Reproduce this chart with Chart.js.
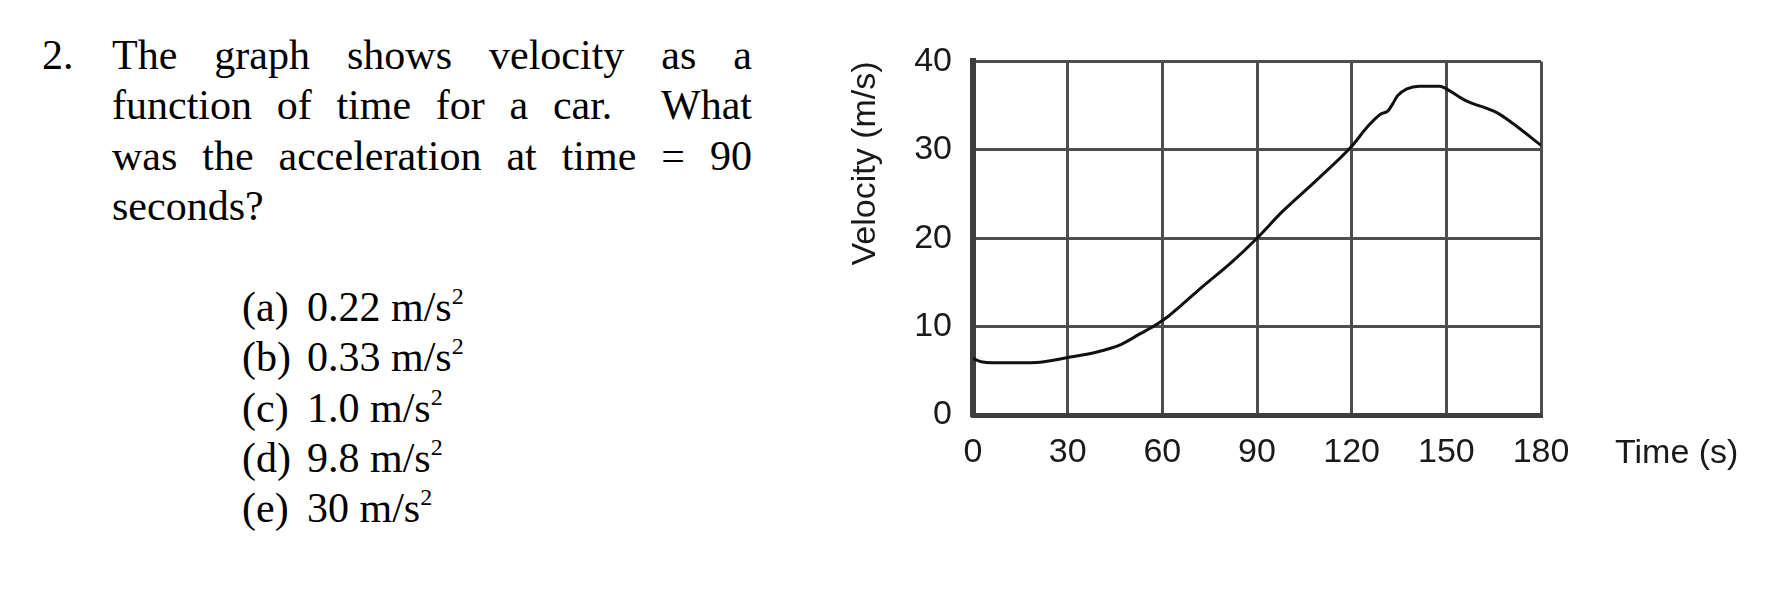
<!DOCTYPE html>
<html>
<head>
<meta charset="utf-8">
<script src="https://cdn.jsdelivr.net/npm/chart.js@4.4.1/dist/chart.umd.min.js"></script>
<style>
  html, body { margin: 0; padding: 0; background: #fff; }
  body { width: 1788px; height: 597px; position: relative; overflow: hidden; }
  .q { position: absolute; font-family: "Liberation Serif", "Times New Roman", serif; font-size: 42px; line-height: 50.3px; color: #000; }
  #num { left: 42px; top: 30px; }
  #question { left: 112px; top: 30px; width: 640px; }
  #question .jl { text-align: justify; text-align-last: justify; }
  #options { left: 242px; top: 282px; }
  #options .lab { display: inline-block; width: 65px; }
  sup { font-size: 24px; line-height: 0; vertical-align: 17px; }
  #chartBox { position: absolute; left: 830px; top: 20px; width: 958px; height: 500px; }
  #xTitle { position: absolute; left: 1615px; top: 431px; font-family: "Liberation Sans", Arial, sans-serif; font-size: 34px; line-height: 40px; color: #1a1a1a; }
</style>
</head>
<body>
<div class="q" id="num">2.</div>
<div class="q" id="question">
  <div class="jl">The graph shows velocity as a</div>
  <div class="jl">function of time for a car.&nbsp; What</div>
  <div class="jl">was the acceleration at time = 90</div>
  <div>seconds?</div>
</div>
<div class="q" id="options">
  <div><span class="lab">(a)</span>0.22 m/s<sup>2</sup></div>
  <div><span class="lab">(b)</span>0.33 m/s<sup>2</sup></div>
  <div><span class="lab">(c)</span>1.0 m/s<sup>2</sup></div>
  <div><span class="lab">(d)</span>9.8 m/s<sup>2</sup></div>
  <div><span class="lab">(e)</span>30 m/s<sup>2</sup></div>
</div>
<div id="chartBox"><canvas id="c"></canvas></div>
<div id="xTitle">Time (s)</div>
<script>
// ---- data ----
const times = [0, 3, 10, 20, 30, 39, 47, 53, 58, 62, 66, 72, 82, 90, 98, 109, 120, 125, 129, 131.5, 133, 134.5, 137.5, 141.5, 148, 150, 156, 166, 171, 180];
const velocities = [6.4, 6.0, 5.9, 5.95, 6.5, 7.1, 8.0, 9.2, 10.2, 11.2, 12.4, 14.3, 17.3, 20.0, 23.0, 26.6, 30.4, 32.6, 34.0, 34.4, 35.2, 36.1, 36.9, 37.2, 37.2, 36.9, 35.6, 34.2, 33.0, 30.5];
const xTickValues = [0, 30, 60, 90, 120, 150, 180];
const yTickValues = [0, 10, 20, 30, 40];
const yTitle = 'Velocity (m/s)';

const points = times.map((t, i) => ({ x: t, y: velocities[i] }));
const tickFont = { family: '"Liberation Sans", Arial, sans-serif', size: 34 };
const gridColor = '#4e4e4e';

new Chart(document.getElementById('c'), {
  type: 'line',
  data: {
    datasets: [{
      data: points,
      borderColor: '#111',
      borderWidth: 3,
      pointRadius: 0,
      fill: false,
      cubicInterpolationMode: 'monotone'
    }]
  },
  options: {
    responsive: true,
    maintainAspectRatio: false,
    animation: false,
    events: [],
    layout: { padding: { left: 0, top: 37, right: 247, bottom: 0 } },
    plugins: { legend: { display: false }, tooltip: { enabled: false }, title: { display: false } },
    scales: {
      x: {
        type: 'linear',
        min: 0, max: 180,
        afterBuildTicks: s => { s.ticks = xTickValues.map(v => ({ value: v })); },
        afterFit: s => { s.height = 105; },
        grid: { color: gridColor, lineWidth: 3, drawTicks: false },
        border: { color: '#3e3e3e', width: 5 },
        ticks: { font: tickFont, color: '#1a1a1a', padding: 17, maxRotation: 0, autoSkip: false }
      },
      y: {
        type: 'linear',
        min: 0, max: 40,
        afterBuildTicks: s => { s.ticks = yTickValues.map(v => ({ value: v })); },
        afterFit: s => { s.width = 143; },
        grid: { color: gridColor, lineWidth: 3, drawTicks: false },
        border: { color: '#3e3e3e', width: 6 },
        ticks: { font: tickFont, color: '#1a1a1a', padding: 21 },
        title: {
          display: true,
          text: yTitle,
          align: 'end',
          font: tickFont,
          color: '#1a1a1a',
          padding: { top: 15, bottom: 0 }
        }
      }
    }
  }
});
</script>
</body>
</html>
